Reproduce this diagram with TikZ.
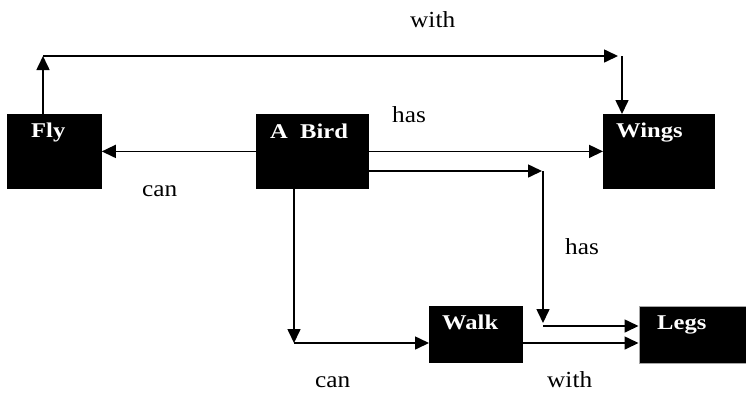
\documentclass[tikz,border=0pt]{standalone}
\usepackage{fontspec}
\setmainfont{Liberation Serif}
\usetikzlibrary{arrows.meta}
\newcommand{\btx}[1]{\scalebox{1.17}[1]{\fontsize{21}{23}\selectfont\bfseries #1}}
\newcommand{\ltx}[1]{\scalebox{1.1}[1]{\fontsize{23}{25}\selectfont #1}}
\begin{document}
\begin{tikzpicture}[x=1pt,y=-1pt,
  box/.style={fill=black,draw=black,line width=0.8pt,anchor=north west,inner sep=0pt},
  btext/.style={text=white,anchor=base west,inner sep=0pt},
  lbl/.style={anchor=base west,inner sep=0pt},
  arr/.style={line width=1.6pt,-{Triangle[length=14pt,width=13pt]}}]
\useasboundingbox (0,0) rectangle (746,392);
% boxes
\node[box,minimum width=94pt,minimum height=74pt] (fly) at (7,114) {};
\node[box,minimum width=112pt,minimum height=74pt] (bird) at (256,114) {};
\node[box,minimum width=111pt,minimum height=74pt] (wings) at (603,114) {};
\node[box,minimum width=93pt,minimum height=56pt] (walk) at (429,306) {};
\node[box,draw=gray!70,line width=1.5pt,minimum width=107pt,minimum height=57pt] (legs) at (638.5,305.5) {};
% box texts
\node[btext] (flyt) at (31,137) {\btx{Fly}};
\node[btext] (birdt) at (270,138) {\btx{A\ \ Bird}};
\node[btext] (wingst) at (616,137) {\btx{Wings}};
\node[btext] (walkt) at (442,329) {\btx{Walk}};
\node[btext] (legst) at (657,329) {\btx{Legs}};
% labels
\node[lbl] (l1) at (410,27) {\ltx{with}};
\node[lbl] (l2) at (392,122) {\ltx{has}};
\node[lbl] (l3) at (142,196) {\ltx{can}};
\node[lbl] (l4) at (565,254) {\ltx{has}};
\node[lbl] (l5) at (315,387) {\ltx{can}};
\node[lbl] (l6) at (547,387) {\ltx{with}};
% coordinates
\coordinate (tl) at (43,56);
\coordinate (tr) at (618,56);
\coordinate (tw) at (622,56);
\coordinate (b2) at (368,171);
\coordinate (e2) at (542,171);
\coordinate (v2) at (543,171);
\coordinate (v2e) at (543,323);
\coordinate (h2) at (543,326);
\coordinate (c3) at (294,343);
% connectors
\draw[arr] (tl |- fly.north) -- (tl);
\draw[arr] (tl) -- (tr);
\draw[arr] (tw) -- (tw |- wings.north);
\draw[arr] (bird.west) -- (fly.east);
\draw[arr] (bird.east) -- (wings.west);
\draw[arr] (b2) -- (e2);
\draw[arr] (v2) -- (v2e);
\draw[arr] (h2) -- (h2 -| legs.west);
\draw[arr] (c3 |- bird.south) -- (c3);
\draw[arr] (c3) -- (c3 -| walk.west);
\draw[arr] (walk.east |- c3) -- (c3 -| legs.west);
\end{tikzpicture}
\end{document}
